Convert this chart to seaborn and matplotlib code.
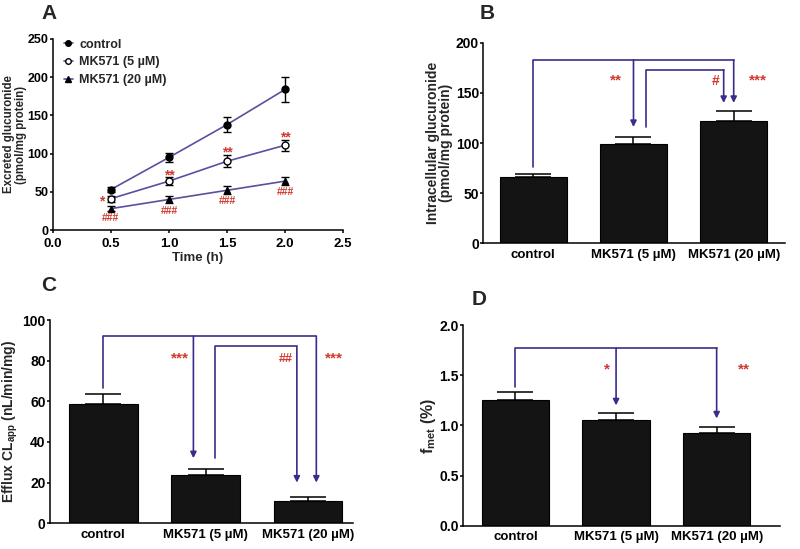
import numpy as np
import pandas as pd
import seaborn as sns
from matplotlib import pyplot as plt
from matplotlib.lines import Line2D

# 00 - Data
time_h = [0.5, 1.0, 1.5, 2.0]
control_A = [53, 95, 138, 184]
control_A_err = [3, 6, 10, 16]
mk5_A = [41, 64, 90, 111]
mk5_A_err = [4, 5, 8, 7]
mk20_A = [28, 40, 52, 64]
mk20_A_err = [3, 5, 5, 5]
mk5_A_marks = ['*', '**', '**', '**']
mk20_A_marks = ['###', '###', '###', '###']

groups = ['control', 'MK571 (5 µM)', 'MK571 (20 µM)']
intracellular = [66, 99, 122]
intracellular_err = [3, 7, 10]
efflux = [58.5, 23.5, 11]
efflux_err = [5, 3, 2]
fmet = [1.25, 1.05, 0.93]
fmet_err = [0.08, 0.07, 0.05]

# 01 - Style
sns.set_style('ticks')
plt.rcParams['font.family'] = ['Liberation Sans', 'DejaVu Sans']
plt.rcParams['font.weight'] = 'bold'
plt.rcParams['axes.labelweight'] = 'bold'
plt.rcParams['mathtext.fontset'] = 'custom'
plt.rcParams['mathtext.rm'] = 'Liberation Sans:bold'
plt.rcParams['mathtext.it'] = 'Liberation Sans:bold'
plt.rcParams['mathtext.bf'] = 'Liberation Sans:bold'

LINE = '#5b4f9e'
ARROW = '#3b2c8c'
RED = '#d03a2f'
YTICK_FS = 10
XTICK_FS = 9.5

fig = plt.figure(figsize=(8, 5.49), dpi=100)
axA = fig.add_axes([0.066, 0.581, 0.363, 0.348])
axB = fig.add_axes([0.604, 0.557, 0.377, 0.365])
axC = fig.add_axes([0.0625, 0.047, 0.379, 0.370])
axD = fig.add_axes([0.579, 0.042, 0.396, 0.366])


def style_axis(ax, ytick_fs=YTICK_FS):
    sns.despine(ax=ax)
    for s in ['left', 'bottom']:
        ax.spines[s].set_linewidth(1.1)
        ax.spines[s].set_color('black')
    ax.tick_params(width=1.1, length=2.5, colors='black', pad=1)
    ax.tick_params(axis='y', labelsize=ytick_fs, pad=0.6)
    ax.tick_params(axis='x', labelsize=XTICK_FS)
    for lab in ax.get_xticklabels() + ax.get_yticklabels():
        lab.set_fontweight('bold')


# 02 - Panel A: time course
df_A = pd.DataFrame({
    'time': time_h * 3,
    'value': control_A + mk5_A + mk20_A,
    'group': ['control'] * 4 + ['MK571 (5 µM)'] * 4 + ['MK571 (20 µM)'] * 4,
})
sns.lineplot(data=df_A, x='time', y='value', hue='group', hue_order=groups,
             palette=[LINE] * 3, legend=False, linewidth=1.2, ax=axA)
series = [(control_A, control_A_err, 'o', 'black'),
          (mk5_A, mk5_A_err, 'o', 'white'),
          (mk20_A, mk20_A_err, '^', 'black')]
for vals, err, mk, fc in series:
    axA.errorbar(time_h, vals, yerr=err, fmt=mk, mfc=fc, mec='black', mew=1.0,
                 ms=5, ecolor='black', elinewidth=1.0, capsize=3, capthick=1.0,
                 zorder=4)
for t, v, e, m in zip(time_h, mk5_A, mk5_A_err, mk5_A_marks):
    if m == '*':
        axA.text(t - 0.08, v - 3, m, color=RED, ha='center', va='center', fontsize=10)
    else:
        axA.text(t, v + e + 3, m, color=RED, ha='center', va='center', fontsize=10)
for t, v, e, m in zip(time_h, mk20_A, mk20_A_err, mk20_A_marks):
    axA.text(t, v - e - 3, m, color=RED, ha='center', va='top', fontsize=7.5)

axA.set_xlim(0, 2.5)
axA.set_ylim(0, 250)
axA.set_xticks(np.arange(0, 2.51, 0.5))
axA.set_xticklabels([f'{v:.1f}' for v in np.arange(0, 2.51, 0.5)])
axA.set_yticks(np.arange(0, 251, 50))
axA.set_xlabel('Time (h)', fontsize=9.5, labelpad=2)
axA.set_ylabel('Excreted glucuronide\n(pmol/mg protein)', fontsize=8.3, linespacing=0.95)
axA.yaxis.set_label_coords(-0.09, 0.5)
style_axis(axA, ytick_fs=9)
axA.tick_params(axis='x', pad=3)
handles = [Line2D([], [], color=LINE, lw=1.2, marker='o', mfc='black', mec='black', ms=4),
           Line2D([], [], color=LINE, lw=1.2, marker='o', mfc='white', mec='black', ms=4),
           Line2D([], [], color=LINE, lw=1.2, marker='^', mfc='black', mec='black', ms=4)]
axA.legend(handles, groups, loc='upper left', bbox_to_anchor=(0.0, 1.06), frameon=False,
           prop={'weight': 'bold', 'size': 9}, handlelength=0.7, handletextpad=0.5,
           labelspacing=0.45)


# 03 - Bar panels
def bar_panel(ax, vals, errs):
    sns.barplot(x=groups, y=vals, color='#141414', saturation=1, width=0.67,
                edgecolor='black', linewidth=0.8, errorbar=None, ax=ax)
    ax.errorbar(range(len(vals)), vals, yerr=[np.zeros(len(errs)), errs], fmt='none',
                ecolor='black', elinewidth=1.1, capsize=13, capthick=1.1)


def arrow(ax, x, y_top, y_end):
    ax.annotate('', xy=(x, y_end), xytext=(x, y_top),
                arrowprops=dict(arrowstyle='-|>', color=ARROW, lw=1.2,
                                mutation_scale=9, shrinkA=0, shrinkB=0))


# Panel B
bar_panel(axB, intracellular, intracellular_err)
axB.plot([0, 0, 2], [76, 183, 183], color=ARROW, lw=1.2)
arrow(axB, 1, 183, 116)
arrow(axB, 2, 183, 140)
axB.plot([1.12, 1.12, 1.9], [116, 173, 173], color=ARROW, lw=1.2)
arrow(axB, 1.9, 173, 140)
axB.text(0.83, 162, '**', color=RED, ha='center', va='center', fontsize=11)
axB.text(1.82, 162, '#', color=RED, ha='center', va='center', fontsize=10)
axB.text(2.24, 162, '***', color=RED, ha='center', va='center', fontsize=11)
axB.set_xlim(-0.5, 2.51)
axB.set_ylim(0, 200)
axB.set_yticks(np.arange(0, 201, 50))
axB.set_ylabel('Intracellular glucuronide\n(pmol/mg protein)', fontsize=10, linespacing=0.95)
axB.yaxis.set_label_coords(-0.10, 0.5)
style_axis(axB)
axB.tick_params(axis='x', length=0, pad=4)

# Panel C
bar_panel(axC, efflux, efflux_err)
axC.plot([0, 0, 2.08], [66.5, 92, 92], color=ARROW, lw=1.2)
arrow(axC, 0.88, 92, 32)
arrow(axC, 2.08, 92, 20)
axC.plot([1.09, 1.09, 1.89], [32, 87, 87], color=ARROW, lw=1.2)
arrow(axC, 1.89, 87, 20)
axC.text(0.75, 81, '***', color=RED, ha='center', va='center', fontsize=11)
axC.text(1.78, 81, '##', color=RED, ha='center', va='center', fontsize=9)
axC.text(2.25, 81, '***', color=RED, ha='center', va='center', fontsize=11)
axC.set_xlim(-0.52, 2.44)
axC.set_ylim(0, 100)
axC.set_yticks(np.arange(0, 101, 20))
axC.set_ylabel('Efflux CL$_{app}$ (nL/min/mg)', fontsize=10)
axC.yaxis.set_label_coords(-0.10, 0.5)
style_axis(axC)
axC.tick_params(axis='x', length=0, pad=4)

# Panel D
bar_panel(axD, fmet, fmet_err)
axD.plot([0, 0, 2], [1.38, 1.77, 1.77], color=ARROW, lw=1.2)
arrow(axD, 1, 1.77, 1.20)
arrow(axD, 2, 1.77, 1.07)
axD.text(0.91, 1.56, '*', color=RED, ha='center', va='center', fontsize=11)
axD.text(2.27, 1.56, '**', color=RED, ha='center', va='center', fontsize=11)
axD.set_xlim(-0.52, 2.63)
axD.set_ylim(0, 2.0)
axD.set_yticks(np.arange(0, 2.01, 0.5))
axD.set_yticklabels([f'{v:.1f}' for v in np.arange(0, 2.01, 0.5)])
axD.set_ylabel('f$_{met}$ (%)', fontsize=11.5)
axD.yaxis.set_label_coords(-0.08, 0.5)
style_axis(axD)
axD.tick_params(axis='x', length=0, pad=4)

# 04 - Panel letters
for lbl, x, y in [('A', 0.052, 0.975), ('B', 0.6, 0.975), ('C', 0.052, 0.48), ('D', 0.59, 0.455)]:
    fig.text(x, y, lbl, fontsize=15, fontweight='bold', ha='left', va='center')

plt.savefig('out.png', dpi=100)
